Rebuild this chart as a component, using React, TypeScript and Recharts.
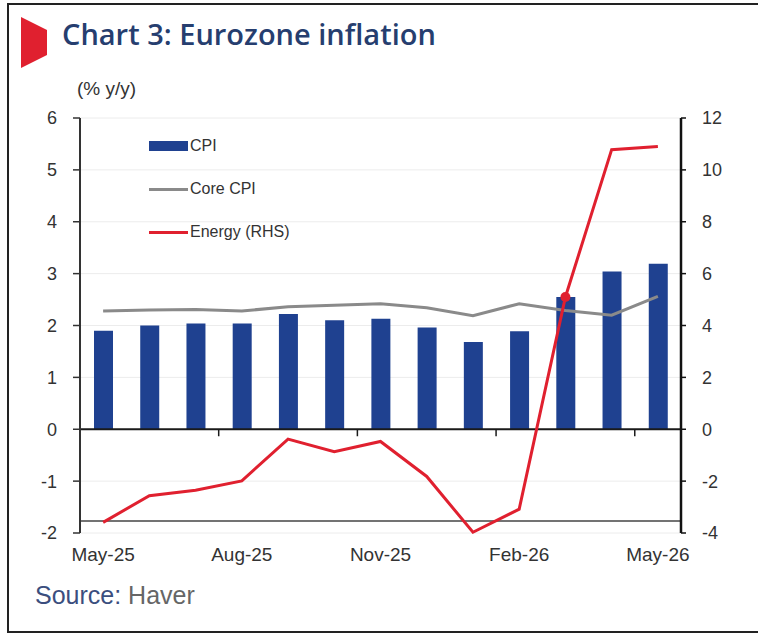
import React from 'react';
import { ComposedChart, Bar, Line, XAxis, YAxis, CartesianGrid, ReferenceLine } from 'recharts';

const months = ['May-25', 'Jun-25', 'Jul-25', 'Aug-25', 'Sep-25', 'Oct-25', 'Nov-25', 'Dec-25', 'Jan-26', 'Feb-26', 'Mar-26', 'Apr-26', 'May-26'];
const cpi = [1.9, 2.0, 2.04, 2.04, 2.22, 2.1, 2.13, 1.96, 1.68, 1.89, 2.55, 3.04, 3.19];
const coreCpi = [2.28, 2.3, 2.31, 2.28, 2.36, 2.39, 2.42, 2.34, 2.19, 2.42, 2.29, 2.2, 2.56];
const energy = [-3.59, -2.56, -2.35, -1.99, -0.38, -0.87, -0.47, -1.82, -3.97, -3.08, 5.1, 10.78, 10.9];
const markedMonth = 'Mar-26';
const tickMonths = ['Aug-25', 'Nov-25', 'Feb-26', 'May-26'];
const leftDomain = [-2, 6];
const leftTicks = [-2, -1, 0, 1, 2, 3, 4, 5, 6];
const rightTicks = [-4, -2, 0, 2, 4, 6, 8, 10, 12];

const BLUE = '#1f4190';
const GREY = '#8a8a8a';
const RED = '#e0202f';
const TEXT = '#333333';
const FONT = '"Liberation Sans", Arial, sans-serif';

const data = months.map((m, i) => ({ month: m, cpi: cpi[i], core: coreCpi[i], energy: energy[i] }));

const legendItems = [
  { name: 'CPI', color: BLUE, h: 10 },
  { name: 'Core CPI', color: GREY, h: 3 },
  { name: 'Energy (RHS)', color: RED, h: 3 },
];

const LegendBox = () => (
  <div style={{ position: 'absolute', left: 149, top: 135, fontFamily: FONT, fontSize: 16, color: TEXT }}>
    {legendItems.map((item) => (
      <div key={item.name} style={{ display: 'flex', alignItems: 'center', height: 22, marginBottom: 21 }}>
        <div style={{ width: 39, height: item.h, background: item.color }} />
        <span style={{ marginLeft: 2 }}>{item.name}</span>
      </div>
    ))}
  </div>
);

const EnergyDot = (props: any) => {
  const { cx, cy, payload } = props;
  if (payload.month !== markedMonth) return <g key={payload.month} />;
  return <circle key={payload.month} cx={cx} cy={cy} r={5} fill={RED} />;
};

// short tick below the zero line, at the left edge of the month band
const ZeroTick = (props: any) => {
  const { x1, y1, y2 } = props;
  const top = Math.min(y1, y2);
  const bottom = Math.max(y1, y2);
  const zeroY = top + ((bottom - top) * leftDomain[1]) / (leftDomain[1] - leftDomain[0]);
  return <line x1={x1} x2={x1} y1={zeroY} y2={zeroY + 7} stroke="#1a1a1a" strokeWidth={1.5} />;
};

export default function App() {
  return (
    <div style={{ position: 'absolute', left: 0, top: 0, width: 758, height: 636, background: '#fff', fontFamily: FONT }}>
      <div style={{ position: 'absolute', left: 7, top: 3, width: 751, height: 626, borderLeft: '2.5px solid #222', borderTop: '2.5px solid #222', borderBottom: '2.5px solid #222' }} />
      <svg style={{ position: 'absolute', left: 0, top: 0 }} width={60} height={80}>
        <polygon points="21,17 47,30 47,55 21,68" fill="#e0202f" />
      </svg>
      <div style={{ position: 'absolute', left: 62, top: 14, fontFamily: '"Open Sans", sans-serif', fontWeight: 600, fontSize: 29, color: '#263e6f', whiteSpace: 'nowrap' }}>
        Chart 3: Eurozone inflation
      </div>
      <div style={{ position: 'absolute', left: 77, top: 78, fontSize: 19, color: TEXT }}>(% y/y)</div>
      <div style={{ position: 'absolute', left: 35, top: 581, fontSize: 25, whiteSpace: 'nowrap' }}>
        <span style={{ color: '#3b4e7e' }}>Source: </span>
        <span style={{ color: '#666' }}>Haver</span>
      </div>
      <div style={{ position: 'absolute', left: 0, top: 0 }}>
        <ComposedChart width={758} height={636} data={data} margin={{ top: 118, right: 27, left: 0, bottom: 63 }}>
          <CartesianGrid yAxisId="left" horizontal vertical={false} stroke="#ececec" />
          <XAxis
            dataKey="month"
            interval={2}
            axisLine={false}
            tickLine={false}
            tickSize={0}
            tickMargin={15}
            height={40}
            tick={{ fill: TEXT, fontSize: 19, fontFamily: FONT }}
          />
          <YAxis
            yAxisId="left"
            domain={leftDomain}
            ticks={leftTicks}
            width={80}
            tickSize={7}
            tickMargin={16}
            axisLine={{ stroke: '#333', strokeWidth: 2 }}
            tickLine={{ stroke: '#333', strokeWidth: 1.5 }}
            tick={{ fill: TEXT, fontSize: 18, fontFamily: FONT }}
          />
          <YAxis
            yAxisId="right"
            orientation="right"
            domain={[-4, 12]}
            ticks={rightTicks}
            width={50}
            tickSize={5}
            tickMargin={16}
            axisLine={{ stroke: '#111', strokeWidth: 2.5 }}
            tickLine={{ stroke: '#111', strokeWidth: 1.5 }}
            tick={{ fill: TEXT, fontSize: 18, fontFamily: FONT, textAnchor: 'start' }}
          />
          <Bar yAxisId="left" dataKey="cpi" name="CPI" fill={BLUE} barSize={19} isAnimationActive={false} />
          <ReferenceLine yAxisId="left" y={0} stroke="#1a1a1a" strokeWidth={2} />
          <ReferenceLine yAxisId="left" y={-1.77} stroke="#444" strokeWidth={1.5} />
          {tickMonths.map((m) => (
            <ReferenceLine key={m} yAxisId="left" x={m} position="start" shape={<ZeroTick />} />
          ))}
          <Line yAxisId="left" dataKey="core" name="Core CPI" stroke={GREY} strokeWidth={3} dot={false} isAnimationActive={false} />
          <Line yAxisId="right" dataKey="energy" name="Energy (RHS)" stroke={RED} strokeWidth={3} dot={<EnergyDot />} activeDot={false} isAnimationActive={false} />
        </ComposedChart>
      </div>
      <LegendBox />
    </div>
  );
}
